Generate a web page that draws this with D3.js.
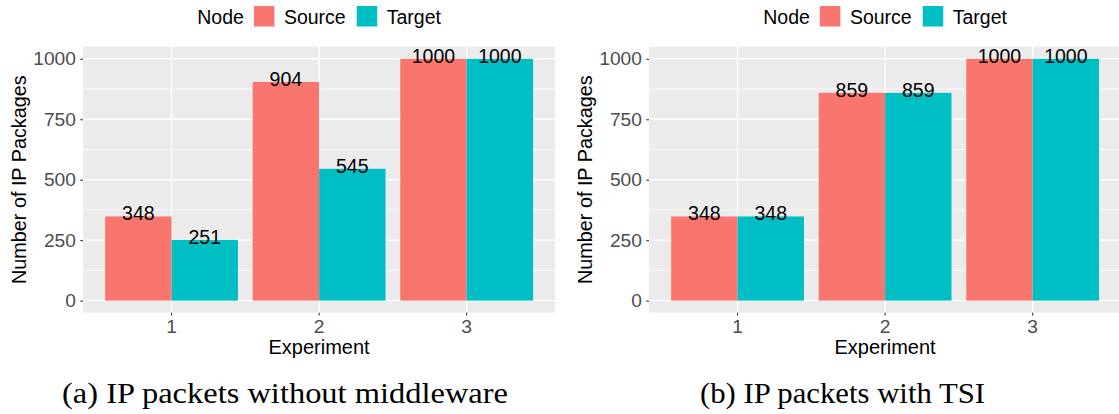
<!DOCTYPE html>
<html>
<head>
<meta charset="utf-8">
<script src="https://cdn.jsdelivr.net/npm/d3@7"></script>
<style>
  html, body { margin: 0; padding: 0; background: #ffffff; }
  svg { display: block; }
</style>
</head>
<body>
<svg id="chart" width="1119" height="414"></svg>
<script>
// Experiments on the x axis and the two node types in the legend
const experiments = ["1", "2", "3"];
const nodes = ["Source", "Target"];

// Packets counted per experiment, without middleware
const sourceWithoutMiddleware = [348, 904, 1000];
const targetWithoutMiddleware = [251, 545, 1000];

// Packets counted per experiment, with TSI
const sourceWithTSI = [348, 859, 1000];
const targetWithTSI = [348, 859, 1000];

const yTicks = [0, 250, 500, 750, 1000];
const yMinorTicks = [125, 375, 625, 875];

const captions = ["(a) IP packets without middleware", "(b) IP packets with TSI"];

const nodeColors = { Source: "#F8766D", Target: "#00BFC4" };

const svg = d3.select("#chart");

const panels = [
  { source: sourceWithoutMiddleware, target: targetWithoutMiddleware, left: 83, right: 555.2,
    caption: captions[0], captionX: 285, captionWidth: 446, titleX: 26 },
  { source: sourceWithTSI, target: targetWithTSI, left: 649, right: 1121.2,
    caption: captions[1], captionX: 842.5, captionWidth: 285, titleX: 592 }
];

const plotTop = 46.7, plotBottom = 312.7;
const sans = "Liberation Sans, Arial, sans-serif";

panels.forEach(p => {
  const g = svg.append("g");

  // ggplot-style discrete scale: 0.9 wide dodged bars, 0.6 unit expansion each side
  const x = d3.scaleBand().domain(experiments).range([p.left, p.right])
    .paddingInner(0.1).paddingOuter(0.15);
  const xNode = d3.scaleBand().domain(nodes).range([0, x.bandwidth()]);
  const y = d3.scaleLinear().domain([-50, 1050]).range([plotBottom, plotTop]);

  const rows = experiments.map((e, i) => ({
    experiment: e,
    values: [
      { node: "Source", value: p.source[i] },
      { node: "Target", value: p.target[i] }
    ]
  }));

  // panel background
  g.append("rect")
    .attr("x", p.left).attr("y", plotTop)
    .attr("width", p.right - p.left).attr("height", plotBottom - plotTop)
    .attr("fill", "#EBEBEB");

  // grid lines
  g.selectAll(".minor").data(yMinorTicks).join("line")
    .attr("x1", p.left).attr("x2", p.right)
    .attr("y1", d => y(d)).attr("y2", d => y(d))
    .attr("stroke", "#ffffff").attr("stroke-width", 0.7);
  g.selectAll(".majorY").data(yTicks).join("line")
    .attr("x1", p.left).attr("x2", p.right)
    .attr("y1", d => y(d)).attr("y2", d => y(d))
    .attr("stroke", "#ffffff").attr("stroke-width", 1.4);
  g.selectAll(".majorX").data(experiments).join("line")
    .attr("x1", d => x(d) + x.bandwidth() / 2).attr("x2", d => x(d) + x.bandwidth() / 2)
    .attr("y1", plotTop).attr("y2", plotBottom)
    .attr("stroke", "#ffffff").attr("stroke-width", 1.4);

  // bars
  const groups = g.selectAll(".grp").data(rows).join("g")
    .attr("transform", d => `translate(${x(d.experiment)},0)`);
  groups.selectAll("rect").data(d => d.values).join("rect")
    .attr("x", d => xNode(d.node))
    .attr("width", xNode.bandwidth())
    .attr("y", d => y(d.value))
    .attr("height", d => y(0) - y(d.value))
    .attr("fill", d => nodeColors[d.node]);

  // value labels
  groups.selectAll("text").data(d => d.values).join("text")
    .attr("x", d => xNode(d.node) + xNode.bandwidth() / 2)
    .attr("y", d => y(d.value) + 4)
    .attr("text-anchor", "middle")
    .attr("font-family", sans)
    .attr("font-size", 19.5)
    .attr("fill", "#000000")
    .text(d => d.value);

  // y axis
  const yAxis = g.append("g")
    .attr("transform", `translate(${p.left},0)`)
    .call(d3.axisLeft(y).tickValues(yTicks).tickFormat(d3.format("d"))
      .tickSize(2.7).tickPadding(4.4));
  yAxis.select(".domain").remove();
  yAxis.selectAll(".tick line").attr("stroke", "#333333").attr("stroke-width", 1.1);
  yAxis.selectAll(".tick text")
    .attr("font-family", sans)
    .attr("font-size", 19.2).attr("fill", "#4D4D4D");

  // x axis
  const xAxis = g.append("g")
    .attr("transform", `translate(0,${plotBottom})`)
    .call(d3.axisBottom(x).tickSize(2.7).tickPadding(4.4));
  xAxis.select(".domain").remove();
  xAxis.selectAll(".tick line").attr("stroke", "#333333").attr("stroke-width", 1.1);
  xAxis.selectAll(".tick text")
    .attr("font-family", sans)
    .attr("font-size", 19.2).attr("fill", "#4D4D4D");

  // axis titles
  const cx = (p.left + p.right) / 2;
  g.append("text")
    .attr("x", cx).attr("y", 354)
    .attr("text-anchor", "middle")
    .attr("font-family", sans)
    .attr("font-size", 20).attr("fill", "#000000")
    .text("Experiment");
  g.append("text")
    .attr("transform", `translate(${p.titleX},${(plotTop + plotBottom) / 2}) rotate(-90)`)
    .attr("text-anchor", "middle")
    .attr("font-family", sans)
    .attr("font-size", 19.8).attr("fill", "#000000")
    .text("Number of IP Packages");

  // legend on top, centred over the panel
  const leg = g.append("g");
  const keySize = 20.5;
  let lx = 0;
  const title = leg.append("text")
    .attr("x", lx).attr("y", 23.5)
    .attr("font-family", sans)
    .attr("font-size", 19.5).attr("fill", "#000000")
    .text("Node");
  lx += title.node().getComputedTextLength() + 10;
  nodes.forEach((n, i) => {
    leg.append("rect")
      .attr("x", lx).attr("y", 6)
      .attr("width", keySize).attr("height", keySize)
      .attr("fill", nodeColors[n]);
    lx += keySize + 9.5;
    const t = leg.append("text")
      .attr("x", lx).attr("y", 23.5)
      .attr("font-family", sans)
      .attr("font-size", 19.5).attr("fill", "#000000")
      .text(n);
    lx += t.node().getComputedTextLength() + (i < nodes.length - 1 ? 11 : 0);
  });
  leg.attr("transform", `translate(${cx - lx / 2},0)`);

  // subfigure caption
  svg.append("text")
    .attr("x", p.captionX).attr("y", 403)
    .attr("text-anchor", "middle")
    .attr("font-family", "Liberation Serif, Times New Roman, serif")
    .attr("font-size", 29)
    .attr("textLength", p.captionWidth)
    .attr("lengthAdjust", "spacingAndGlyphs")
    .attr("fill", "#000000")
    .text(p.caption);
});
</script>
</body>
</html>
